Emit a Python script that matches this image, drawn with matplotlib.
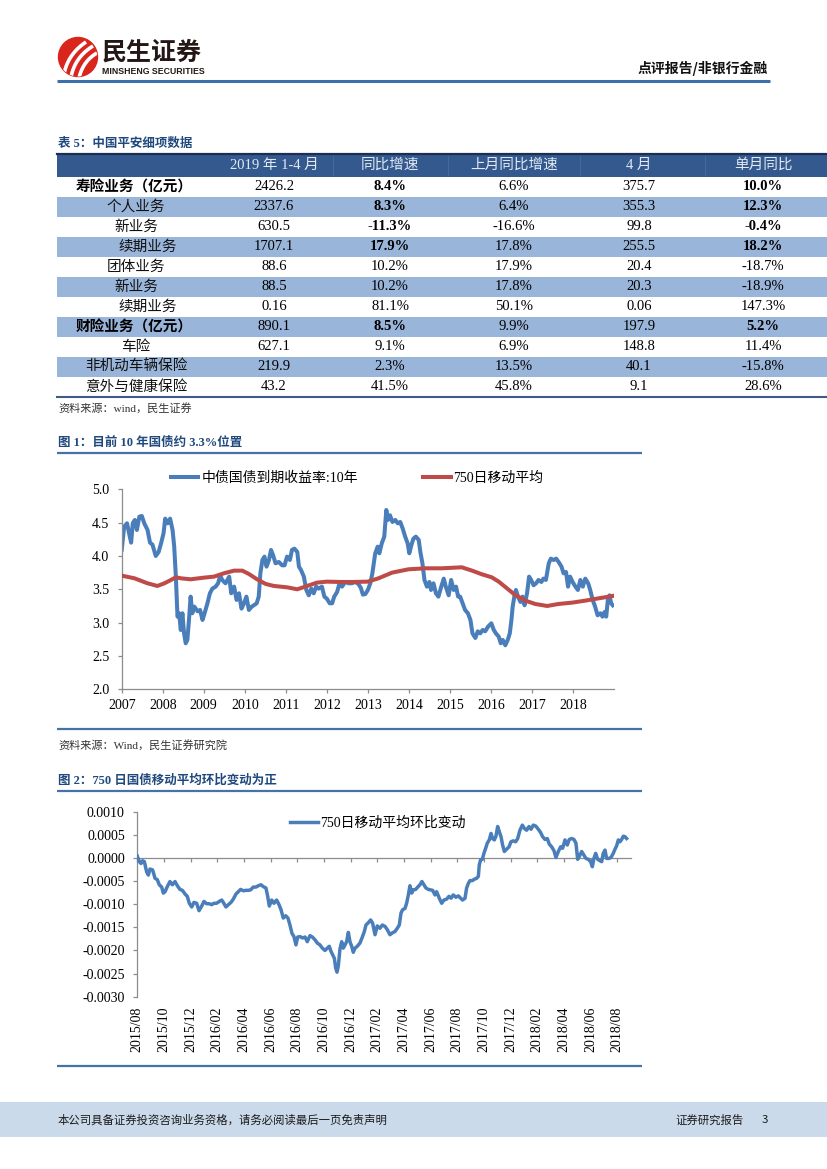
import matplotlib
matplotlib.use('Agg')
import matplotlib.pyplot as plt
from matplotlib.lines import Line2D
from matplotlib.patches import Rectangle, Circle
import numpy as np

SERIF = ['Liberation Serif', 'Noto Sans CJK SC']
SANS = ['Noto Sans CJK SC', 'DejaVu Sans']
plt.rcParams['font.family'] = SERIF

# ---------------- table data ----------------
table_title = '表 5：中国平安细项数据'
table_header = ['', '2019 年 1-4 月', '同比增速', '上月同比增速', '4 月', '单月同比']
row_labels = ['寿险业务（亿元）', '个人业务', '新业务', '续期业务', '团体业务', '新业务',
              '续期业务', '财险业务（亿元）', '车险', '非机动车辆保险', '意外与健康保险']
ytd_2019 = ['2426.2', '2337.6', '630.5', '1707.1', '88.6', '88.5', '0.16', '890.1', '627.1', '219.9', '43.2']
yoy = ['8.4%', '8.3%', '-11.3%', '17.9%', '10.2%', '10.2%', '81.1%', '8.5%', '9.1%', '2.3%', '41.5%']
prev_yoy = ['6.6%', '6.4%', '-16.6%', '17.8%', '17.9%', '17.8%', '50.1%', '9.9%', '6.9%', '13.5%', '45.8%']
apr = ['375.7', '355.3', '99.8', '255.5', '20.4', '20.3', '0.06', '197.9', '148.8', '40.1', '9.1']
mom = ['10.0%', '12.3%', '-0.4%', '18.2%', '-18.7%', '-18.9%', '147.3%', '5.2%', '11.4%', '-15.8%', '28.6%']
table_source = '资料来源：wind，民生证券'

# ---------------- chart 1 data ----------------
fig1_title = '图 1：目前 10 年国债约 3.3%位置'
fig1_source = '资料来源：Wind，民生证券研究院'
yield_label = '中债国债到期收益率:10年'
ma_label = '750日移动平均'
yield_t = [2007.00, 2007.06, 2007.13, 2007.19, 2007.23, 2007.27, 2007.32, 2007.37, 2007.43, 2007.49,
           2007.55, 2007.63, 2007.69, 2007.75, 2007.83, 2007.90, 2007.96, 2008.02, 2008.06, 2008.12,
           2008.18, 2008.24, 2008.28, 2008.32, 2008.36, 2008.40, 2008.44, 2008.48, 2008.52, 2008.56,
           2008.60, 2008.64, 2008.68, 2008.72, 2008.77, 2008.85, 2008.91, 2008.97, 2009.02, 2009.09,
           2009.15, 2009.21, 2009.29, 2009.35, 2009.40, 2009.45, 2009.53, 2009.62, 2009.67, 2009.74,
           2009.80, 2009.86, 2009.92, 2009.98, 2010.04, 2010.10, 2010.17, 2010.22, 2010.29, 2010.34,
           2010.38, 2010.43, 2010.48, 2010.53, 2010.59, 2010.64, 2010.69, 2010.75, 2010.83, 2010.91,
           2010.97, 2011.03, 2011.10, 2011.15, 2011.21, 2011.28, 2011.32, 2011.37, 2011.44, 2011.50,
           2011.56, 2011.62, 2011.68, 2011.74, 2011.80, 2011.88, 2011.94, 2012.00, 2012.07, 2012.13,
           2012.18, 2012.25, 2012.31, 2012.37, 2012.45, 2012.53, 2012.61, 2012.69, 2012.77, 2012.83,
           2012.88, 2012.94, 2013.00, 2013.06, 2013.11, 2013.18, 2013.24, 2013.28, 2013.34, 2013.40,
           2013.45, 2013.49, 2013.54, 2013.60, 2013.67, 2013.73, 2013.79, 2013.85, 2013.91, 2013.97,
           2014.01, 2014.06, 2014.11, 2014.17, 2014.24, 2014.28, 2014.33, 2014.38, 2014.44, 2014.50,
           2014.54, 2014.60, 2014.66, 2014.72, 2014.79, 2014.85, 2014.90, 2014.97, 2015.03, 2015.09,
           2015.15, 2015.20, 2015.25, 2015.31, 2015.37, 2015.44, 2015.50, 2015.55, 2015.62, 2015.68,
           2015.74, 2015.80, 2015.86, 2015.93, 2016.01, 2016.07, 2016.12, 2016.19, 2016.24, 2016.29,
           2016.35, 2016.41, 2016.46, 2016.50, 2016.53, 2016.57, 2016.61, 2016.66, 2016.72, 2016.77,
           2016.82, 2016.88, 2016.93, 2016.98, 2017.04, 2017.10, 2017.16, 2017.23, 2017.28, 2017.34,
           2017.41, 2017.46, 2017.53, 2017.59, 2017.65, 2017.72, 2017.77, 2017.83, 2017.88, 2017.93,
           2017.99, 2018.06, 2018.12, 2018.18, 2018.24, 2018.30, 2018.37, 2018.42, 2018.48, 2018.54,
           2018.60, 2018.67, 2018.72, 2018.77, 2018.81, 2018.85, 2018.89, 2018.93, 2018.97]
yield_v = [4.09, 4.44, 4.49, 4.31, 4.20, 4.49, 4.54, 4.39, 4.59, 4.60,
           4.49, 4.39, 4.20, 4.17, 4.00, 4.06, 4.19, 4.34, 4.56, 4.49,
           4.56, 4.39, 4.14, 3.69, 3.09, 3.14, 2.89, 3.14, 2.84, 2.69,
           2.74, 3.04, 3.39, 3.14, 3.24, 3.17, 3.19, 3.04, 3.14, 3.29,
           3.44, 3.51, 3.54, 3.59, 3.71, 3.64, 3.59, 3.69, 3.44, 3.54,
           3.34, 3.44, 3.21, 3.29, 3.39, 3.19, 3.24, 3.26, 3.29, 3.39,
           3.74, 3.94, 3.99, 3.84, 3.94, 4.09, 4.01, 3.89, 3.91, 3.86,
           3.86, 3.99, 3.94, 4.09, 4.11, 4.06, 3.84, 3.79, 3.69, 3.49,
           3.41, 3.51, 3.44, 3.54, 3.51, 3.54, 3.39, 3.36, 3.29, 3.29,
           3.39, 3.46, 3.59, 3.54, 3.61, 3.59, 3.59, 3.61, 3.58, 3.52,
           3.42, 3.43, 3.49, 3.59, 3.74, 4.04, 4.14, 4.04, 4.19, 4.29,
           4.69, 4.54, 4.61, 4.51, 4.54, 4.49, 4.51, 4.41, 4.29, 4.19,
           4.04, 4.16, 4.26, 4.29, 4.24, 4.06, 3.89, 3.64, 3.54, 3.61,
           3.49, 3.59, 3.44, 3.39, 3.54, 3.66, 3.54, 3.41, 3.64, 3.49,
           3.54, 3.39, 3.39, 3.29, 3.19, 3.14, 3.04, 2.84, 2.77, 2.87,
           2.84, 2.89, 2.87, 2.94, 2.99, 2.89, 2.84, 2.79, 2.69, 2.74,
           2.66, 2.74, 2.84, 3.04, 3.24, 3.39, 3.49, 3.39, 3.31, 3.39,
           3.26, 3.44, 3.69, 3.64, 3.56, 3.59, 3.64, 3.61, 3.66, 3.64,
           3.89, 3.96, 3.94, 3.96, 3.91, 3.84, 3.74, 3.76, 3.54, 3.69,
           3.61, 3.54, 3.49, 3.64, 3.54, 3.66, 3.59, 3.49, 3.34, 3.24,
           3.11, 3.14, 3.09, 3.16, 3.09, 3.34, 3.41, 3.29, 3.26]
ma_t = [2007.00, 2007.31, 2007.63, 2007.87, 2008.04, 2008.20, 2008.32, 2008.44, 2008.68, 2009.01,
        2009.25, 2009.49, 2009.74, 2009.94, 2010.10, 2010.30, 2010.51, 2010.71, 2011.03, 2011.28,
        2011.52, 2011.76, 2012.00, 2012.33, 2012.65, 2013.00, 2013.26, 2013.59, 2013.99, 2014.40,
        2014.80, 2015.29, 2015.54, 2015.78, 2016.02, 2016.19, 2016.39, 2016.59, 2016.84, 2017.08,
        2017.37, 2017.65, 2017.98, 2018.30, 2018.63, 2018.97]
ma_v = [3.705, 3.665, 3.59, 3.55, 3.59, 3.64, 3.68, 3.665, 3.65, 3.675,
        3.69, 3.74, 3.78, 3.78, 3.73, 3.65, 3.58, 3.55, 3.53, 3.50,
        3.55, 3.60, 3.615, 3.61, 3.61, 3.615, 3.665, 3.75, 3.80, 3.815,
        3.815, 3.83, 3.78, 3.725, 3.68, 3.615, 3.515, 3.415, 3.33, 3.28,
        3.25, 3.28, 3.30, 3.33, 3.365, 3.40]
year_ticks = [2007, 2008, 2009, 2010, 2011, 2012, 2013, 2014, 2015, 2016, 2017, 2018]
y1_ticks = [2.0, 2.5, 3.0, 3.5, 4.0, 4.5, 5.0]

# ---------------- chart 2 data ----------------
fig2_title = '图 2：750 日国债移动平均环比变动为正'
chg_label = '750日移动平均环比变动'
# x = months elapsed since 2015/08
chg_m = [0.0, 0.15, 0.28, 0.4, 0.53, 0.7, 0.83, 0.95, 1.15, 1.33, 1.5, 1.65, 1.83, 1.95, 2.08, 2.25,
         2.45, 2.63, 2.83, 3.0, 3.2, 3.38, 3.58, 3.75, 3.9, 4.08, 4.25, 4.45, 4.63, 4.83, 5.0, 5.2,
         5.4, 5.58, 5.75, 5.95, 6.15, 6.33, 6.45, 6.65, 6.83, 7.03, 7.2, 7.4, 7.58, 7.75, 7.95, 8.15,
         8.33, 8.5, 8.7, 8.9, 9.08, 9.28, 9.45, 9.65, 9.78, 9.9, 10.08, 10.25, 10.45, 10.63, 10.78,
         10.95, 11.13, 11.3, 11.45, 11.6, 11.75, 11.9, 12.03, 12.2, 12.4, 12.58, 12.75, 12.95, 13.13,
         13.33, 13.5, 13.7, 13.88, 14.08, 14.25, 14.4, 14.53, 14.65, 14.78, 14.88, 14.98, 15.08, 15.2,
         15.33, 15.45, 15.58, 15.7, 15.83, 15.95, 16.08, 16.2, 16.33, 16.5, 16.7, 16.88, 17.03, 17.15,
         17.33, 17.5, 17.65, 17.83, 18.0, 18.2, 18.38, 18.58, 18.75, 18.95, 19.13, 19.33, 19.5, 19.65,
         19.78, 19.9, 20.08, 20.2, 20.33, 20.45, 20.58, 20.7, 20.88, 21.03, 21.2, 21.35, 21.5, 21.65,
         21.83, 22.0, 22.15, 22.33, 22.45, 22.65, 22.83, 23.0, 23.2, 23.38, 23.53, 23.7, 23.9, 24.08,
         24.25, 24.4, 24.58, 24.7, 24.83, 24.95, 25.13, 25.28, 25.45, 25.58, 25.65, 25.75, 25.88, 26.0,
         26.13, 26.25, 26.4, 26.53, 26.65, 26.78, 26.9, 27.03, 27.15, 27.28, 27.4, 27.53, 27.7, 27.88,
         28.03, 28.2, 28.38, 28.53, 28.7, 28.88, 29.03, 29.2, 29.38, 29.53, 29.7, 29.88, 30.08, 30.25,
         30.4, 30.58, 30.75, 30.9, 31.08, 31.25, 31.4, 31.58, 31.75, 31.9, 32.08, 32.25, 32.4, 32.58,
         32.75, 32.9, 33.03, 33.15, 33.33, 33.5, 33.65, 33.83, 34.0, 34.13, 34.25, 34.38, 34.53, 34.7,
         34.83, 34.95, 35.08, 35.2, 35.38, 35.53, 35.7, 35.83, 35.95, 36.08, 36.2, 36.33, 36.45, 36.58,
         36.7]
chg_v = [0.00004, -0.00008, -0.00012, -0.00006, -0.00008, -0.0003, -0.00037, -0.00024, -0.00026,
         -0.00044, -0.00047, -0.00058, -0.00063, -0.00076, -0.00073, -0.00062, -0.00051, -0.00058,
         -0.00051, -0.0006, -0.00068, -0.0007, -0.00078, -0.00083, -0.00098, -0.00106, -0.00096,
         -0.00098, -0.00114, -0.00104, -0.00094, -0.00099, -0.00099, -0.00101, -0.00098, -0.00098,
         -0.00094, -0.00091, -0.00096, -0.00106, -0.00101, -0.00096, -0.00089, -0.00078, -0.00073,
         -0.00068, -0.00071, -0.0007, -0.0007, -0.00069, -0.00063, -0.00063, -0.0006, -0.00058,
         -0.00062, -0.00065, -0.00083, -0.00104, -0.00091, -0.00098, -0.00091, -0.00101, -0.00112,
         -0.0013, -0.00125, -0.0013, -0.00145, -0.00163, -0.0017, -0.00188, -0.00171, -0.0017,
         -0.00173, -0.00171, -0.00181, -0.00168, -0.00171, -0.00177, -0.00184, -0.00188, -0.00195,
         -0.002, -0.00195, -0.00191, -0.00202, -0.00209, -0.00217, -0.00238, -0.00247, -0.00233,
         -0.00197, -0.00181, -0.00195, -0.00188, -0.00181, -0.00161, -0.00181, -0.00191, -0.00204,
         -0.00195, -0.00191, -0.00184, -0.00171, -0.00159, -0.00145, -0.0014, -0.00134, -0.00141,
         -0.00166, -0.00147, -0.00152, -0.00145, -0.00148, -0.00155, -0.00166, -0.00162, -0.00159,
         -0.00152, -0.00145, -0.00119, -0.00112, -0.00109, -0.00098, -0.0008, -0.0006, -0.00076,
         -0.00069, -0.00068, -0.00063, -0.00058, -0.00051, -0.00058, -0.00065, -0.00068, -0.00069,
         -0.0007, -0.0008, -0.00073, -0.00087, -0.00098, -0.00091, -0.00089, -0.00083, -0.00087,
         -0.0008, -0.00085, -0.00082, -0.00087, -0.00091, -0.00087, -0.00065, -0.00055, -0.00049,
         -0.00049, -0.00046, -0.00044, -0.0004, -0.00015, -0.00004, -0.00003, 0.0001, 0.00021,
         0.00032, 0.00039, 0.00053, 0.00042, 0.00039, 0.00047, 0.00068, 0.00057, 0.00046, 0.00028,
         0.00014, 0.00019, 0.00024, 0.00035, 0.00037, 0.00035, 0.00042, 0.0006, 0.00071, 0.00064,
         0.0006, 0.00068, 0.00062, 0.00071, 0.00069, 0.00062, 0.00055, 0.00046, 0.0004, 0.00042,
         0.0003, 0.00024, 0.00016, 0.00001, 0.00014, 0.00024, 0.00021, 0.00039, 0.00028, 0.0004,
         0.00042, 0.0004, 0.00032, -0.00003, 0.00003, 0.00014, 0.00006, -0.00001, -0.00003, -0.00008,
         -0.00019, -0.00001, 0.0001, -0.00003, -0.00006, -0.00008, 0.0001, 0.00017, -0.00001,
         -0.00001, 0.00001, 0.0001, 0.00019, 0.00026, 0.00039, 0.00035, 0.0004, 0.00047, 0.00046,
         0.00042]
month_ticks = [0, 2, 4, 6, 8, 10, 12, 14, 16, 18, 20, 22, 24, 26, 28, 30, 32, 34, 36]
month_labels = ['2015/08', '2015/10', '2015/12', '2016/02', '2016/04', '2016/06', '2016/08',
                '2016/10', '2016/12', '2017/02', '2017/04', '2017/06', '2017/08', '2017/10',
                '2017/12', '2018/02', '2018/04', '2018/06', '2018/08']
y2_ticks = [-0.0030, -0.0025, -0.0020, -0.0015, -0.0010, -0.0005, 0.0, 0.0005, 0.0010]

# ---------------- page text ----------------
brand_cn = '民生证券'
brand_en = 'MINSHENG SECURITIES'
report_type = '点评报告/非银行金融'
footer_left = '本公司具备证券投资咨询业务资格，请务必阅读最后一页免责声明'
footer_right = '证券研究报告'
page_no = '3'

# ---------------- style ----------------
BLUE = '#4A7EBB'
RED = '#BE4B48'
NAVY = '#1F497D'
RULE = '#4573A8'
AXC = '#8C8C8C'
HDR_BG = '#34598F'
SHADE = '#9AB5DA'

W, H = 827, 1169
fig = plt.figure(figsize=(W / 100, H / 100), dpi=100)
bg = fig.add_axes([0, 0, 1, 1])
bg.set_xlim(0, W)
bg.set_ylim(H, 0)
bg.axis('off')


def px_axes(l, t, r, b):
    ax = fig.add_axes([l / W, 1 - b / H, (r - l) / W, (b - t) / H])
    ax.set_facecolor('none')
    return ax


# ---- header ----
circ = Circle((78, 57), 19.5, color='#D9251C', zorder=2)
bg.add_patch(circ)
for p0, p1, p2 in [((64, 74), (68, 54), (86, 42)), ((71, 77), (75, 57), (93, 46)),
                   ((79, 78), (83, 61), (97, 53))]:
    tt = np.linspace(0, 1, 30)
    xs = (1 - tt) ** 2 * p0[0] + 2 * (1 - tt) * tt * p1[0] + tt ** 2 * p2[0]
    ys = (1 - tt) ** 2 * p0[1] + 2 * (1 - tt) * tt * p1[1] + tt ** 2 * p2[1]
    ln, = bg.plot(xs, ys, color='white', lw=2.6, solid_capstyle='butt', zorder=3)
    ln.set_clip_path(circ)
bg.text(102, 53, brand_cn, fontsize=18, weight='bold', family=SANS, color='#231815',
        ha='left', va='center')
bg.text(102, 71, brand_en, fontsize=6.3, weight='bold', family=['Liberation Sans Narrow', 'Liberation Sans'],
        color='#231815', ha='left', va='center')
bg.text(768, 68, report_type, fontsize=10, weight='bold', family=SANS, color='#111111',
        ha='right', va='center')
bg.plot([57, 770], [81, 81], color='#3D6FA8', lw=2.2, solid_capstyle='butt')

# ---- table ----
bg.text(58, 144, table_title, fontsize=9, weight='bold', family=SERIF, color=NAVY, ha='left', va='center')
tbl_l, tbl_r = 57, 827
hdr_t, hdr_b = 153, 176.7
row_h = 20
col_x = [136, 274, 390, 514, 639, 763]
bg.add_patch(Rectangle((tbl_l, hdr_t), tbl_r - tbl_l, hdr_b - hdr_t, color=HDR_BG, lw=0))
bg.plot([tbl_l, tbl_r], [hdr_t + 0.8, hdr_t + 0.8], color='#1C2F52', lw=1.6)
for sx in [333, 448, 580, 705]:
    bg.plot([sx, sx], [hdr_t + 3, hdr_b - 2], color='#4D6C9C', lw=0.6)
for j, htxt in enumerate(table_header):
    if htxt:
        bg.text(col_x[j], (hdr_t + hdr_b) / 2 + 0.5, htxt, fontsize=10.5, family=SERIF, color='#E3E9F3',
                ha='center', va='center')
cols = [ytd_2019, yoy, prev_yoy, apr, mom]
bold_value_rows = [0, 1, 2, 3, 7]
bold_label_rows = [0, 7]
for i, lab in enumerate(row_labels):
    top = hdr_b + i * row_h
    yc = top + row_h / 2
    if i % 2 == 1:
        bg.add_patch(Rectangle((tbl_l, top), tbl_r - tbl_l, row_h, color=SHADE, lw=0))
    if i in bold_label_rows:
        bg.text(76, yc, lab, fontsize=10.5, weight='bold', family=SANS, color='black', ha='left', va='center')
    else:
        cx = 148 if lab == '续期业务' else 136
        bg.text(cx, yc, lab, fontsize=10.5, family=SANS, color='#111111', ha='center', va='center')
    for j, col in enumerate(cols, start=1):
        bold = (j in (2, 5)) and (i in bold_value_rows)
        bg.text(col_x[j], yc, col[i], fontsize=10.5, family=SERIF, weight='bold' if bold else 'normal',
                color='black', ha='center', va='center')
tbl_bottom = hdr_b + len(row_labels) * row_h
bg.plot([tbl_l, tbl_r], [tbl_bottom, tbl_bottom], color='#3E5B88', lw=1.5)
bg.text(58, 408, table_source, fontsize=8, family=SERIF, color='#333333', ha='left', va='center')

# ---- chart 1 ----
bg.text(58, 443, fig1_title, fontsize=9, weight='bold', family=SERIF, color=NAVY, ha='left', va='center')
bg.plot([57, 642], [452.5, 452.5], color=RULE, lw=1.6, solid_capstyle='butt')
bg.plot([57, 642], [728.5, 728.5], color=RULE, lw=1.6, solid_capstyle='butt')
bg.text(58, 745, fig1_source, fontsize=8, family=SERIF, color='#333333', ha='left', va='center')

ax1 = px_axes(121.7, 489.3, 614, 689.3)
h_y, = ax1.plot(yield_t, yield_v, color=BLUE, lw=2.9, solid_joinstyle='round', zorder=2)
h_m, = ax1.plot(ma_t, ma_v, color=RED, lw=2.9, solid_joinstyle='round', zorder=3)
ax1.set_xlim(2007, 2019)
ax1.set_ylim(2.0, 5.0)
ax1.set_xticks(year_ticks)
ax1.set_xticklabels([str(y) for y in year_ticks])
ax1.set_yticks(y1_ticks)
ax1.set_yticklabels([f'{v:.1f}' for v in y1_ticks])
for s in ['top', 'right']:
    ax1.spines[s].set_visible(False)
for s in ['left', 'bottom']:
    ax1.spines[s].set_color(AXC)
    ax1.spines[s].set_linewidth(0.9)
ax1.tick_params(axis='both', colors=AXC, labelcolor='black', labelsize=10, length=3, width=0.9,
                direction='out')
ax1.tick_params(axis='x', pad=4)
ax1.tick_params(axis='y', pad=6)

leg_kw = dict(frameon=False, borderpad=0, borderaxespad=0, handlelength=2.0, handletextpad=0.2,
              prop={'family': SERIF, 'size': 10}, loc='center left')
fig.legend([h_y], [yield_label], bbox_to_anchor=(170.7 / W, 1 - 478.3 / H), **leg_kw)
fig.legend([h_m], [ma_label], bbox_to_anchor=(423 / W, 1 - 478.3 / H), **leg_kw)

# ---- chart 2 ----
bg.text(58, 780, fig2_title, fontsize=9, weight='bold', family=SERIF, color=NAVY, ha='left', va='center')
bg.plot([57, 642], [790.5, 790.5], color=RULE, lw=1.6, solid_capstyle='butt')
bg.plot([57, 642], [1065.5, 1065.5], color=RULE, lw=1.6, solid_capstyle='butt')

ax2 = px_axes(137.3, 811.7, 630.6, 996.7)
h_c, = ax2.plot(chg_m, chg_v, color=BLUE, lw=2.5, solid_joinstyle='round', zorder=3)
ax2.set_xlim(0, 37)
ax2.set_ylim(-0.0030, 0.0010)
ax2.set_yticks(y2_ticks)
ax2.set_yticklabels([('%.4f' % v) if abs(v) > 1e-12 else '0.0000' for v in y2_ticks])
ax2.set_xticks(month_ticks)
ax2.set_xticklabels(month_labels, rotation=90)
for s in ['top', 'right', 'bottom']:
    ax2.spines[s].set_visible(False)
ax2.spines['left'].set_color(AXC)
ax2.spines['left'].set_linewidth(0.9)
ax2.tick_params(axis='y', colors=AXC, labelcolor='black', labelsize=10, length=3, width=0.9,
                direction='out', pad=6)
ax2.tick_params(axis='x', length=0, labelcolor='black', labelsize=10, pad=7)
zax = ax2.secondary_xaxis(0.0, transform=ax2.transData)
zax.set_xticks(month_ticks)
zax.tick_params(axis='x', colors=AXC, length=3, width=0.9, direction='out', labelbottom=False)
zax.spines['bottom'].set_color(AXC)
zax.spines['bottom'].set_linewidth(0.9)
fig.legend([h_c], [chg_label], bbox_to_anchor=(290 / W, 1 - 822.7 / H), **leg_kw)

# ---- footer ----
bg.add_patch(Rectangle((0, 1101.7), W, 35, color='#CBDAEA', lw=0))
bg.text(58, 1120, footer_left, fontsize=8.2, family=SANS, color='#1A1A1A', ha='left', va='center')
bg.text(744, 1120, footer_right, fontsize=8.2, family=SANS, color='#1A1A1A', ha='right', va='center')
bg.text(765, 1120, page_no, fontsize=8.2, family=SANS, color='#1A1A1A', ha='center', va='center')

fig.savefig('out.png', dpi=100, facecolor='white')
